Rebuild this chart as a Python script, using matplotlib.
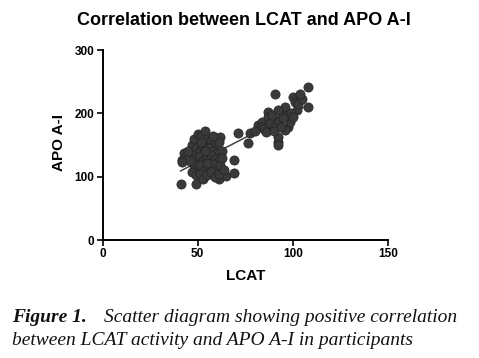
import numpy as np
import matplotlib.pyplot as plt

# ========= DATA =========
# low-LCAT group
lcat_low = [41, 49, 53, 61, 65, 69, 69, 71, 62, 43, 42, 42,
            47, 48, 50, 52, 54, 55, 57, 59, 61, 49, 51, 53, 56, 58, 60,
            47, 49, 51, 53, 55, 57, 59, 61, 48, 50, 52, 54, 56, 58, 60, 62,
            47, 49, 51, 53, 55, 57, 59, 61, 63, 63, 46, 55, 52, 58, 64, 45, 54]
apo_low = [88, 89, 99, 96, 101, 106, 126, 169, 163, 137, 126, 123,
           150, 160, 168, 165, 172, 160, 158, 152, 155, 145, 140, 148, 145, 140, 138,
           135, 128, 132, 125, 130, 135, 128, 125, 118, 112, 118, 110, 115, 120, 112, 118,
           108, 102, 105, 96, 103, 108, 100, 105, 140, 130, 125, 122, 155, 165, 110, 140, 140]

# high-LCAT group
lcat_high = [77.5, 76.5, 81.7, 84, 87, 90.7, 92, 92, 97.5, 98.6, 100, 101, 108, 108,
             90.7, 87, 94.4, 96, 89, 84, 96, 97.5, 102, 85, 88, 91, 93, 95, 89, 92,
             99, 86, 90, 94, 100, 103, 105, 104, 80, 92]
apo_high = [169, 153, 182, 186, 202, 231, 155, 163, 179, 186, 226, 218, 242, 210,
            190, 194, 200, 210, 179, 179, 174, 197, 205, 175, 185, 182, 188, 192, 198, 205,
            200, 170, 172, 178, 195, 215, 222, 230, 172, 150]

TITLE = "Correlation between LCAT and APO A-I"
X_TICKS = [0, 50, 100, 150]
Y_TICKS = [0, 100, 200, 300]

# ========= PLOT =========
x = np.array(lcat_low + lcat_high, dtype=float)
y = np.array(apo_low + apo_high, dtype=float)
coef = np.polyfit(x, y, 1)
xx = np.array([x.min(), x.max()])

fig = plt.figure(figsize=(4.79, 3.58), dpi=100)
ax = fig.add_axes([0.2144, 0.3296, 0.5950, 0.5307])

ax.scatter(x, y, s=44, color="#3a3a3a", edgecolors="#222222", linewidths=0.5, zorder=3)
ax.plot(xx, np.poly1d(coef)(xx), color="#444444", linewidth=1.1, zorder=2)

ax.set_xlim(0, 150)
ax.set_ylim(0, 300)
ax.set_xticks(X_TICKS)
ax.set_yticks(Y_TICKS)
for s in ["top", "right"]:
    ax.spines[s].set_visible(False)
for s in ["left", "bottom"]:
    ax.spines[s].set_linewidth(1.4)
ax.tick_params(direction="out", length=4, width=1.2, labelsize=8.5, pad=2)
for lab in ax.get_xticklabels() + ax.get_yticklabels():
    lab.set_fontfamily("Liberation Sans")
    lab.set_fontweight("bold")

ax.set_xlabel("LCAT", fontsize=11, fontweight="bold", family="Liberation Sans", labelpad=6)
fig.text(0.123, 0.603, "APO A-I", rotation=90, fontsize=11, fontweight="bold",
         family="Liberation Sans", ha="center", va="center")
fig.text(0.509, 0.944, TITLE, fontsize=13, fontweight="bold",
         family="Liberation Sans", ha="center", va="center")

# caption
cap = dict(fontsize=14, style="italic", family="Liberation Serif", color="#111111",
           ha="left", va="center")
fig.text(0.025, 0.112, "Figure 1.", fontweight="bold", **cap)
fig.text(0.217, 0.112, "Scatter diagram showing positive correlation", **cap)
fig.text(0.025, 0.050, "between LCAT activity and APO A-I in participants", **cap)

fig.savefig("out.png", dpi=100)
